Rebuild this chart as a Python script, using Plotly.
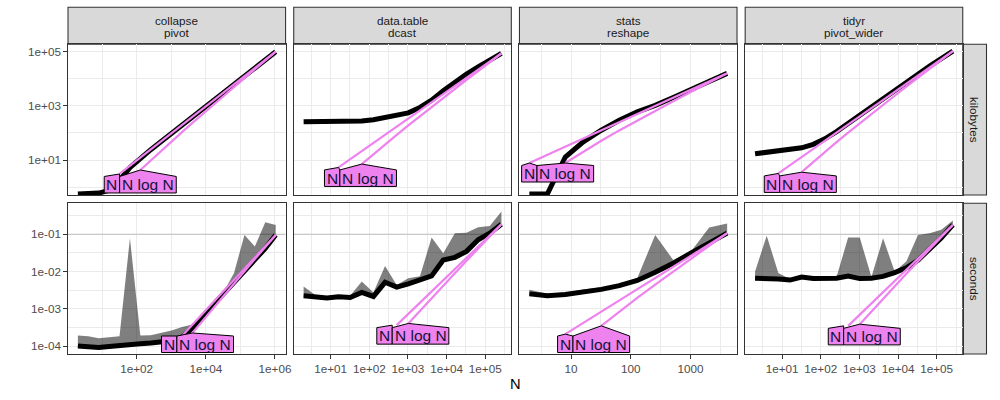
import math
import plotly.graph_objects as go

# ---------------- data ----------------
panel_titles = [("collapse", "pivot"), ("data.table", "dcast"), ("stats", "reshape"), ("tidyr", "pivot_wider")]
unit_labels = ["kilobytes", "seconds"]

N_collapse = [2, 4, 8, 16, 32, 64, 128, 256, 512, 1024, 2048, 4096, 8192, 16384,
              32768, 65536, 131072, 262144, 524288, 1048576]
N_datatable = [2, 4, 8, 16, 32, 64, 128, 256, 512, 1024, 2048, 4096, 8192, 16384,
               32768, 65536, 131072, 262144]
N_stats = [2, 4, 8, 16, 32, 64, 128, 256, 512, 1024, 2048, 4096]
N_tidyr = [2, 4, 8, 16, 32, 64, 128, 256, 512, 1024, 2048, 4096, 8192, 16384,
           32768, 65536, 131072, 262144]

# memory (kilobytes, median)
kb_collapse = [0.55, 0.55, 0.60, 0.76, 1.78, 5.25, 11.7, 24.0, 47.9, 95.5, 191, 380, 759,
               1514, 3020, 6166, 12303, 24547, 48978, 100000]
kb_datatable = [257, 257, 257, 258, 260, 275, 309, 372, 447, 550, 871, 1622, 3631, 7762,
                14791, 27542, 48978, 87096]
kb_stats = [0.55, 0.55, 12.9, 46.8, 126, 295, 603, 1047, 2042, 3981, 7762, 15849]
kb_tidyr = [17.0, 19.1, 20.9, 23.4, 28.2, 38.0, 60.3, 112, 229, 457, 912, 1862, 3715,
            7413, 14791, 29512, 56234, 104713]

# time (seconds): median, min, max
sec_med_collapse = [1.00e-4, 9.55e-5, 9.12e-5, 9.77e-5, 1.05e-4, 1.10e-4, 1.15e-4, 1.20e-4,
                    1.26e-4, 1.38e-4, 1.74e-4, 3.02e-4, 6.31e-4, 1.26e-3, 2.51e-3, 5.13e-3,
                    1.05e-2, 2.00e-2, 4.17e-2, 9.55e-2]
sec_min_collapse = [9.33e-5, 8.91e-5, 8.51e-5, 9.12e-5, 9.77e-5, 1.02e-4, 1.07e-4, 1.12e-4,
                    1.17e-4, 1.29e-4, 1.62e-4, 2.82e-4, 5.89e-4, 1.17e-3, 2.34e-3, 4.79e-3,
                    9.55e-3, 1.86e-2, 3.80e-2, 8.91e-2]
sec_max_collapse = [1.91e-4, 1.82e-4, 1.62e-4, 1.70e-4, 1.82e-4, 7.76e-2, 1.91e-4, 1.95e-4,
                    2.24e-4, 2.63e-4, 3.24e-4, 3.80e-4, 7.08e-4, 1.41e-3, 2.82e-3, 9.12e-3,
                    9.55e-2, 4.68e-2, 0.209, 0.178]

sec_med_datatable = [2.24e-3, 2.04e-3, 1.95e-3, 2.09e-3, 2.00e-3, 2.75e-3, 2.14e-3, 5.13e-3,
                     3.80e-3, 4.68e-3, 6.17e-3, 7.59e-3, 2.04e-2, 2.40e-2, 3.47e-2, 7.08e-2,
                     0.107, 0.186]
sec_min_datatable = [2.09e-3, 1.91e-3, 1.82e-3, 1.95e-3, 1.86e-3, 2.57e-3, 2.00e-3, 4.79e-3,
                     3.55e-3, 4.37e-3, 5.75e-3, 7.08e-3, 1.91e-2, 2.24e-2, 3.24e-2, 6.61e-2,
                     0.100, 0.174]
sec_max_datatable = [3.98e-3, 2.34e-3, 2.04e-3, 2.24e-3, 2.24e-3, 5.37e-3, 2.75e-3, 1.41e-2,
                     4.37e-3, 6.61e-3, 7.41e-3, 8.13e-2, 3.09e-2, 0.107, 0.110, 0.155,
                     0.166, 0.407]

sec_med_stats = [2.51e-3, 2.24e-3, 2.40e-3, 2.75e-3, 3.31e-3, 4.17e-3, 5.75e-3, 9.55e-3,
                 1.66e-2, 3.16e-2, 5.75e-2, 0.107]
sec_min_stats = [2.34e-3, 2.09e-3, 2.24e-3, 2.57e-3, 3.09e-3, 3.89e-3, 5.37e-3, 8.91e-3,
                 1.55e-2, 2.95e-2, 5.37e-2, 0.100]
sec_max_stats = [3.24e-3, 2.51e-3, 2.75e-3, 3.31e-3, 3.80e-3, 4.57e-3, 6.61e-3, 9.55e-2,
                 2.04e-2, 3.47e-2, 0.151, 0.195]

sec_med_tidyr = [6.61e-3, 6.61e-3, 6.31e-3, 5.89e-3, 7.08e-3, 6.46e-3, 6.46e-3, 6.61e-3,
                 7.59e-3, 6.46e-3, 6.61e-3, 7.41e-3, 9.33e-3, 1.26e-2, 2.00e-2, 3.80e-2,
                 7.94e-2, 0.178]
sec_min_tidyr = [6.17e-3, 6.17e-3, 5.89e-3, 5.50e-3, 6.61e-3, 6.03e-3, 6.03e-3, 6.17e-3,
                 7.08e-3, 6.03e-3, 6.17e-3, 6.92e-3, 8.71e-3, 1.17e-2, 1.86e-2, 3.55e-2,
                 7.41e-2, 0.166]
sec_max_tidyr = [1.00e-2, 9.12e-2, 9.12e-3, 6.31e-3, 7.41e-3, 6.76e-3, 7.08e-3, 7.08e-3,
                 8.13e-2, 8.13e-2, 7.08e-3, 7.76e-2, 1.00e-2, 1.86e-2, 9.55e-2, 0.107,
                 0.132, 0.234]

seconds_limit = 0.1

# smallest N at which each reference line is drawn
ref_N_start_kb = [32, 16, 2, 8]
ref_NlogN_start_kb = [128, 64, 8, 32]
ref_N_start_sec = [2048, 512, 8, 512]
ref_NlogN_start_sec = [4096, 1024, 32, 1024]

# tick labels
x_tickvals = [[1e2, 1e4, 1e6], [1e1, 1e2, 1e3, 1e4, 1e5], [10, 100, 1000], [1e1, 1e2, 1e3, 1e4, 1e5]]
x_ticktext = [["1e+02", "1e+04", "1e+06"],
              ["1e+01", "1e+02", "1e+03", "1e+04", "1e+05"],
              ["10", "100", "1000"],
              ["1e+01", "1e+02", "1e+03", "1e+04", "1e+05"]]
y_tickvals = [[1e1, 1e3, 1e5], [1e-4, 1e-3, 1e-2, 1e-1]]
y_ticktext = [["1e+01", "1e+03", "1e+05"], ["1e-04", "1e-03", "1e-02", "1e-01"]]

Ns = [N_collapse, N_datatable, N_stats, N_tidyr]
kbs = [kb_collapse, kb_datatable, kb_stats, kb_tidyr]
sec_meds = [sec_med_collapse, sec_med_datatable, sec_med_stats, sec_med_tidyr]
sec_mins = [sec_min_collapse, sec_min_datatable, sec_min_stats, sec_min_tidyr]
sec_maxs = [sec_max_collapse, sec_max_datatable, sec_max_stats, sec_max_tidyr]

# ---------------- layout geometry / style ----------------
FONT = "Liberation Sans, Arial, sans-serif"
W, H = 1000, 400
ML, MR, MT, MB = 68, 7, 7, 46
PW = W - ML - MR
PH = H - MT - MB
COL_LEFT = [68.0, 295.2, 522.4, 749.6]
COL_W = 219.0
ROW_TOP = [44.3, 203.3]
ROW_BOT = [195.0, 354.0]
STRIP_TOP = 7.3
RSTRIP = [968.6, 992.5]

X_RANGE = [[0.0154, 6.3066], [0.0451, 5.6744], [0.1355, 3.7779], [0.0451, 5.6744]]
Y_RANGE = [[-0.292, 5.273], [-4.214, -0.170]]

X_MINOR = [[1e1, 1e3, 1e5],
           [10 ** 0.5, 10 ** 1.5, 10 ** 2.5, 10 ** 3.5, 10 ** 4.5, 10 ** 5.5],
           [10 ** 0.5, 10 ** 1.5, 10 ** 2.5, 10 ** 3.5],
           [10 ** 0.5, 10 ** 1.5, 10 ** 2.5, 10 ** 3.5, 10 ** 4.5, 10 ** 5.5]]
Y_MINOR = [[1e0, 1e2, 1e4], [10 ** -3.5, 10 ** -2.5, 10 ** -1.5, 10 ** -0.5]]

GRID = "#EBEBEB"
BORDER = "#333333"
STRIP_FILL = "#D9D9D9"
VIOLET = "violet"


def paper_x(px):
    return (px - ML) / PW


def paper_y(py):
    return 1 - (py - MT) / PH


def data_px_x(c, v):
    lo, hi = X_RANGE[c]
    return COL_LEFT[c] + (math.log10(v) - lo) / (hi - lo) * COL_W


def data_px_y(r, v):
    lo, hi = Y_RANGE[r]
    return ROW_TOP[r] + (hi - math.log10(v)) / (hi - lo) * (ROW_BOT[r] - ROW_TOP[r])


def reference(N, emp, start, kind):
    # atime-style reference curve, scaled to pass through the largest-N median
    f = (lambda n: n) if kind == "N" else (lambda n: n * math.log(n))
    xs = [n for n in N if n >= start]
    ys = [emp[-1] * f(n) / f(N[-1]) for n in xs]
    return xs, ys


fig = go.Figure()
shapes = []
annotations = []
layout = dict(width=W, height=H, margin=dict(l=ML, r=MR, t=MT, b=MB, pad=0),
              paper_bgcolor="white", plot_bgcolor="white", showlegend=False,
              font=dict(family=FONT))

LABEL_W = {"N": 15.5, "N log N": 57.0}
BOX_H = 16.5
ROOF = 2.5

for r in range(2):
    for c in range(4):
        i = r * 4 + c + 1
        xname = "x" if i == 1 else f"x{i}"
        yname = "y" if i == 1 else f"y{i}"
        xk = "xaxis" if i == 1 else f"xaxis{i}"
        yk = "yaxis" if i == 1 else f"yaxis{i}"
        layout[xk] = dict(
            type="log", domain=[paper_x(COL_LEFT[c]), paper_x(COL_LEFT[c] + COL_W)],
            range=X_RANGE[c], anchor=yname, tickmode="array",
            tickvals=x_tickvals[c], ticktext=x_ticktext[c],
            showticklabels=(r == 1), ticks="outside" if r == 1 else "",
            ticklen=3.7, tickwidth=1.07, tickcolor=BORDER,
            tickfont=dict(size=11.7, color="#4D4D4D", family=FONT),
            showgrid=True, gridcolor=GRID, gridwidth=1.07,
            minor=dict(tickmode="array", tickvals=X_MINOR[c], showgrid=True,
                       gridcolor=GRID, gridwidth=0.55, ticks=""),
            showline=True, mirror=True, linecolor=BORDER, linewidth=1.07,
            zeroline=False, fixedrange=True)
        layout[yk] = dict(
            type="log", domain=[paper_y(ROW_BOT[r]), paper_y(ROW_TOP[r])],
            range=Y_RANGE[r], anchor=xname, tickmode="array",
            tickvals=y_tickvals[r], ticktext=y_ticktext[r],
            showticklabels=(c == 0), ticks="outside" if c == 0 else "",
            ticklen=3.7, tickwidth=1.07, tickcolor=BORDER,
            tickfont=dict(size=11.7, color="#4D4D4D", family=FONT),
            showgrid=True, gridcolor=GRID, gridwidth=1.07,
            minor=dict(tickmode="array", tickvals=Y_MINOR[r], showgrid=True,
                       gridcolor=GRID, gridwidth=0.55, ticks=""),
            showline=True, mirror=True, linecolor=BORDER, linewidth=1.07,
            zeroline=False, fixedrange=True)

        N = Ns[c]
        if r == 1:
            emp = sec_meds[c]
            fig.add_trace(go.Scatter(
                x=[10 ** X_RANGE[c][0], 10 ** X_RANGE[c][1]], y=[seconds_limit, seconds_limit],
                mode="lines", line=dict(color="#BEBEBE", width=1.07),
                xaxis=xname, yaxis=yname, hoverinfo="skip"))
            fig.add_trace(go.Scatter(
                x=N + N[::-1], y=sec_maxs[c] + sec_mins[c][::-1], mode="lines",
                fill="toself", fillcolor="rgba(0,0,0,0.5)", line=dict(width=0),
                xaxis=xname, yaxis=yname, hoverinfo="skip"))
            starts = [ref_N_start_sec[c], ref_NlogN_start_sec[c]]
        else:
            emp = kbs[c]
            starts = [ref_N_start_kb[c], ref_NlogN_start_kb[c]]
        fig.add_trace(go.Scatter(
            x=N, y=emp, mode="lines", line=dict(color="black", width=5.0),
            xaxis=xname, yaxis=yname, hoverinfo="skip"))

        tips = []
        kinds = ["N", "N log N"]
        for kind, st in zip(kinds, starts):
            rx, ry = reference(N, emp, st, kind)
            fig.add_trace(go.Scatter(
                x=rx, y=ry, mode="lines", line=dict(color=VIOLET, width=2.2),
                xaxis=xname, yaxis=yname, hoverinfo="skip"))
            tips.append((data_px_x(c, rx[0]), data_px_y(r, ry[0])))

        # label boxes below the start of each reference line (bottom polygons)
        boxes = [[tx - LABEL_W[k] / 2, tx + LABEL_W[k] / 2] for (tx, ty), k in zip(tips, kinds)]
        ov = boxes[0][1] - boxes[1][0]
        if ov > 0:
            boxes[0] = [boxes[0][0] - ov / 2, boxes[0][1] - ov / 2]
            boxes[1] = [boxes[1][0] + ov / 2, boxes[1][1] + ov / 2]
        shift = max(0.0, COL_LEFT[c] + 1 - boxes[0][0])
        shift -= max(0.0, boxes[1][1] - (COL_LEFT[c] + COL_W - 1))
        boxes = [[b[0] + shift, b[1] + shift] for b in boxes]
        top = max(ty for tx, ty in tips) + ROOF
        bot = top + BOX_H
        lim = ROW_BOT[r] - 1.5
        if bot > lim:
            top -= bot - lim
            bot = lim
        for (tx, ty), k, (xl, xr) in zip(tips, kinds, boxes):
            pts = [(xl, bot), (xl, top)]
            if ty < top - 0.5:
                pts.append((min(max(tx, xl), xr), ty))
            pts += [(xr, top), (xr, bot)]
            path = "M " + " L ".join(f"{paper_x(px):.5f},{paper_y(py):.5f}" for px, py in pts) + " Z"
            shapes.append(dict(type="path", xref="paper", yref="paper", path=path,
                               fillcolor="#EE82EE", line=dict(color="black", width=1)))
            annotations.append(dict(x=paper_x((xl + xr) / 2), y=paper_y((top + bot) / 2),
                                    xref="paper", yref="paper", text=k, showarrow=False,
                                    xanchor="center", yanchor="middle",
                                    font=dict(size=15.5, color="#14143A", family=FONT)))

# strips on top
for c, (l1, l2) in enumerate(panel_titles):
    shapes.append(dict(type="rect", xref="paper", yref="paper",
                       x0=paper_x(COL_LEFT[c]), x1=paper_x(COL_LEFT[c] + COL_W),
                       y0=paper_y(ROW_TOP[0]), y1=paper_y(STRIP_TOP),
                       fillcolor=STRIP_FILL, line=dict(color=BORDER, width=1.07), layer="below"))
    for txt, py in ((l1, 20.3), (l2, 33.0)):
        annotations.append(dict(x=paper_x(COL_LEFT[c] + COL_W / 2), y=paper_y(py),
                                xref="paper", yref="paper", text=txt, showarrow=False,
                                xanchor="center", yanchor="middle",
                                font=dict(size=11.7, color="#1A1A1A", family=FONT)))
# strips on the right
for r, lab in enumerate(unit_labels):
    shapes.append(dict(type="rect", xref="paper", yref="paper",
                       x0=paper_x(RSTRIP[0]), x1=paper_x(RSTRIP[1]),
                       y0=paper_y(ROW_BOT[r]), y1=paper_y(ROW_TOP[r]),
                       fillcolor=STRIP_FILL, line=dict(color=BORDER, width=1.07), layer="below"))
    annotations.append(dict(x=paper_x((RSTRIP[0] + RSTRIP[1]) / 2),
                            y=paper_y((ROW_TOP[r] + ROW_BOT[r]) / 2),
                            xref="paper", yref="paper", text=lab, showarrow=False,
                            textangle=90, xanchor="center", yanchor="middle",
                            font=dict(size=11.7, color="#1A1A1A", family=FONT)))
# axis title
annotations.append(dict(x=paper_x((COL_LEFT[0] + COL_LEFT[3] + COL_W) / 2), y=paper_y(384),
                        xref="paper", yref="paper", text="N", showarrow=False,
                        xanchor="center", yanchor="middle",
                        font=dict(size=14.7, color="black", family=FONT)))

layout["shapes"] = shapes
layout["annotations"] = annotations
fig.update_layout(**layout)
fig.write_html("out.html")
